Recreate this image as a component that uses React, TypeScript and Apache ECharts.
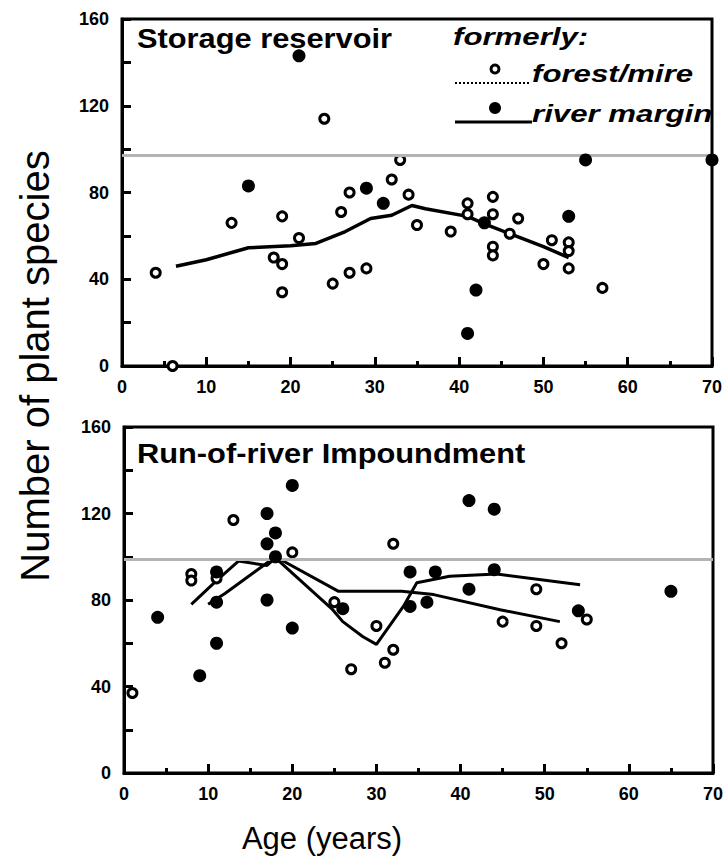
import React, { useEffect, useRef } from "react";
import * as echarts from "echarts";

// ---- Data (Age in years, number of plant species) ----
const xTicks = [0, 10, 20, 30, 40, 50, 60, 70];
const yTicks = [0, 40, 80, 120, 160];

// Storage reservoir
const storageForest: [number, number][] = [
  [4, 43], [6, 0], [13, 66], [18, 50], [19, 47], [19, 34], [19, 69], [21, 59],
  [24, 114], [25, 38], [26, 71], [27, 80], [27, 43], [29, 45], [32, 86], [33, 95],
  [34, 79], [35, 65], [39, 62], [41, 75], [41, 70], [44, 78], [44, 70], [44, 55],
  [44, 51], [46, 61], [47, 68], [50, 47], [51, 58], [53, 57], [53, 53], [53, 45], [57, 36],
];
const storageRiver: [number, number][] = [
  [15, 83], [21, 143], [29, 82], [31, 75], [41, 15], [42, 35], [43, 66], [53, 69], [55, 95], [70, 95],
];
const storageTrend: [number, number][] = [
  [6.4, 46], [10, 49], [15, 54.5], [20, 55.5], [23, 56.5], [26.5, 62], [29.5, 68], [32, 69.5],
  [34.4, 74], [36, 72.5], [41, 69], [43, 65.5], [46, 61], [50, 55], [53, 50],
];
const storageReference = 97;

// Run-of-river impoundment
const runForest: [number, number][] = [
  [1, 37], [8, 92], [8, 89], [11, 90], [13, 117], [20, 102], [25, 79], [27, 48], [30, 68],
  [31, 51], [32, 57], [32, 106], [45, 70], [49, 85], [49, 68], [52, 60], [55, 71],
];
const runRiver: [number, number][] = [
  [4, 72], [9, 45], [11, 93], [11, 79], [11, 60], [17, 120], [17, 106], [17, 80], [18, 111],
  [18, 100], [20, 133], [20, 67], [26, 76], [34, 93], [34, 77], [36, 79], [37, 93], [41, 126],
  [41, 85], [44, 122], [44, 94], [54, 75], [65, 84],
];
const runTrendA: [number, number][] = [
  [10, 78], [12, 83], [18, 100], [25.5, 84], [33, 84], [36.8, 82.5], [44.7, 75.5], [51.8, 70],
];
const runTrendB: [number, number][] = [
  [8, 78], [11, 89], [13.6, 98], [17, 96], [18, 99.5], [24.8, 75.5], [26, 70], [28.4, 63],
  [30, 59.5], [33.2, 77], [34.8, 88], [38.7, 91], [44.3, 92], [54.2, 87],
];
const runReference = 99;

const panelTitles = ["Storage reservoir", "Run-of-river Impoundment"];
const legendTitle = "formerly:";
const legendNames = ["forest/mire", "river margin"];
const xName = "Age (years)";
const yName = "Number of plant species";

const FONT = "'Liberation Sans', Arial, sans-serif";

function makeX(gridIndex: number) {
  return {
    type: "value",
    gridIndex,
    min: xTicks[0],
    max: xTicks[xTicks.length - 1],
    interval: xTicks[1] - xTicks[0],
    axisLine: { show: true, lineStyle: { color: "#000", width: 3 } },
    axisTick: { show: true, inside: true, length: 9, lineStyle: { color: "#000", width: 3 } },
    minorTick: { show: true, splitNumber: 2, length: 5, lineStyle: { color: "#000", width: 3 } },
    splitLine: { show: false },
    axisLabel: { color: "#000", fontFamily: FONT, fontWeight: "bold", fontSize: 18, margin: 12 },
  };
}
function makeY(gridIndex: number) {
  return {
    type: "value",
    gridIndex,
    min: yTicks[0],
    max: yTicks[yTicks.length - 1],
    interval: yTicks[1] - yTicks[0],
    axisLine: { show: true, lineStyle: { color: "#000", width: 3 } },
    axisTick: { show: true, inside: true, length: 9, lineStyle: { color: "#000", width: 3 } },
    minorTick: { show: true, splitNumber: 2, length: 9, lineStyle: { color: "#000", width: 3 } },
    splitLine: { show: false },
    axisLabel: { color: "#000", fontFamily: FONT, fontWeight: "bold", fontSize: 18, margin: 13 },
  };
}

const openStyle = { color: "#fff", borderColor: "#000", borderWidth: 3, opacity: 1 };
const filledStyle = { color: "#000", borderColor: "#000", borderWidth: 0, opacity: 1 };

function refLine(v: number) {
  return {
    silent: true,
    symbol: ["none", "none"],
    label: { show: false },
    lineStyle: { color: "#b4b4b4", width: 3, type: "solid", opacity: 1 },
    data: [{ yAxis: v }],
  };
}

export default function App() {
  const ref = useRef<HTMLDivElement>(null);
  useEffect(() => {
    if (!ref.current) return;
    const chart = echarts.init(ref.current, undefined, { renderer: "svg" });
    const option: any = {
      animation: false,
      backgroundColor: "#fff",
      grid: [
        { left: 122, top: 19, width: 590, height: 347, show: true, borderColor: "#000", borderWidth: 3, backgroundColor: "transparent" },
        { left: 124, top: 427, width: 589, height: 346, show: true, borderColor: "#000", borderWidth: 3, backgroundColor: "transparent" },
      ],
      xAxis: [makeX(0), makeX(1)],
      yAxis: [makeY(0), makeY(1)],
      series: [
        {
          type: "line", xAxisIndex: 0, yAxisIndex: 0, data: storageTrend, symbol: "none",
          lineStyle: { color: "#000", width: 3.5 }, markLine: refLine(storageReference), z: 2,
        },
        { type: "scatter", xAxisIndex: 0, yAxisIndex: 0, data: storageForest, symbol: "circle", symbolSize: 9, itemStyle: openStyle, z: 4 },
        { type: "scatter", xAxisIndex: 0, yAxisIndex: 0, data: storageRiver, symbol: "circle", symbolSize: 13, itemStyle: filledStyle, z: 5 },
        {
          type: "line", xAxisIndex: 1, yAxisIndex: 1, data: runTrendA, symbol: "none",
          lineStyle: { color: "#000", width: 3 }, markLine: refLine(runReference), z: 2,
        },
        { type: "line", xAxisIndex: 1, yAxisIndex: 1, data: runTrendB, symbol: "none", lineStyle: { color: "#000", width: 3 }, z: 2 },
        { type: "scatter", xAxisIndex: 1, yAxisIndex: 1, data: runForest, symbol: "circle", symbolSize: 9, itemStyle: openStyle, z: 4 },
        { type: "scatter", xAxisIndex: 1, yAxisIndex: 1, data: runRiver, symbol: "circle", symbolSize: 13, itemStyle: filledStyle, z: 5 },
      ],
      graphic: [
        {
          type: "text", x: 137, y: 38, scaleX: 1.1, z: 10,
          style: { text: panelTitles[0], fill: "#000", font: `bold 28px ${FONT}`, align: "left", verticalAlign: "middle" },
        },
        {
          type: "text", x: 137, y: 453, scaleX: 1.1, z: 10,
          style: { text: panelTitles[1], fill: "#000", font: `bold 28px ${FONT}`, align: "left", verticalAlign: "middle" },
        },
        {
          type: "text", x: 453, y: 37, scaleX: 1.3, z: 10,
          style: { text: legendTitle, fill: "#000", font: `italic bold 24px ${FONT}`, align: "left", verticalAlign: "middle" },
        },
        {
          type: "line", z: 10,
          shape: { x1: 455, y1: 83, x2: 530, y2: 83 },
          style: { stroke: "#000", lineWidth: 2, lineDash: [2, 2] },
        },
        { type: "circle", z: 11, shape: { cx: 495, cy: 69, r: 4 }, style: { fill: "#fff", stroke: "#000", lineWidth: 3 } },
        {
          type: "text", x: 532, y: 74, scaleX: 1.3, z: 10,
          style: { text: legendNames[0], fill: "#000", font: `italic bold 24px ${FONT}`, align: "left", verticalAlign: "middle" },
        },
        {
          type: "line", z: 10,
          shape: { x1: 455, y1: 122, x2: 532, y2: 122 },
          style: { stroke: "#000", lineWidth: 3 },
        },
        { type: "circle", z: 11, shape: { cx: 495, cy: 108, r: 6 }, style: { fill: "#000" } },
        {
          type: "text", x: 532, y: 114, scaleX: 1.3, z: 10,
          style: { text: legendNames[1], fill: "#000", font: `italic bold 24px ${FONT}`, align: "left", verticalAlign: "middle" },
        },
        {
          type: "text", x: 322, y: 838, z: 10,
          style: { text: xName, fill: "#000", font: `31px ${FONT}`, align: "center", verticalAlign: "middle" },
        },
        {
          type: "text", x: 35, y: 366, rotation: Math.PI / 2, z: 10,
          style: { text: yName, fill: "#000", font: `40px ${FONT}`, align: "center", verticalAlign: "middle" },
        },
      ],
    };
    chart.setOption(option);
    return () => chart.dispose();
  }, []);
  return (
    <div
      ref={ref}
      style={{ position: "absolute", left: 0, top: 0, width: 728, height: 859, background: "#fff" }}
    />
  );
}
